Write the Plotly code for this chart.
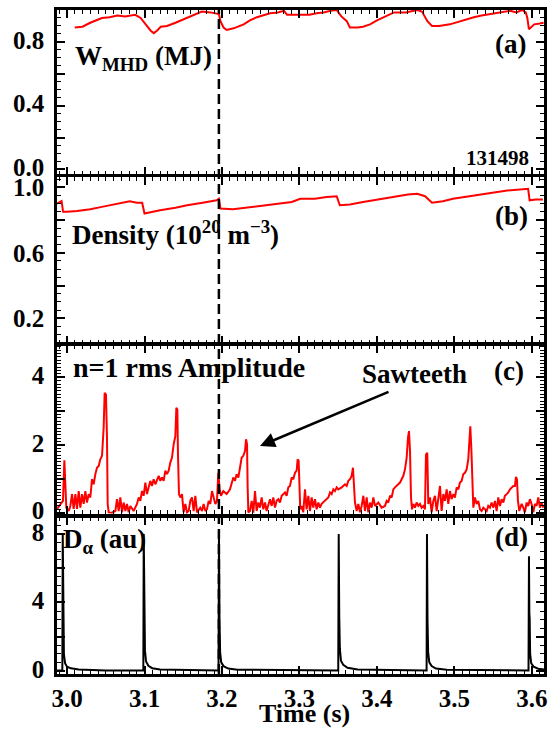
import plotly.graph_objects as go

# ---------------- data ----------------
T_W = [3.010, 3.020, 3.030, 3.045, 3.055, 3.065, 3.075, 3.088, 3.095, 3.100, 3.104, 3.108,
       3.112, 3.116, 3.121, 3.129, 3.140, 3.150, 3.159, 3.168, 3.174, 3.185, 3.194, 3.196,
       3.198, 3.202, 3.206, 3.215, 3.228, 3.236, 3.245, 3.262, 3.272, 3.280, 3.284, 3.300,
       3.313, 3.322, 3.331, 3.340, 3.348, 3.354, 3.361, 3.365, 3.375, 3.382, 3.391, 3.400,
       3.409, 3.422, 3.437, 3.446, 3.452, 3.458, 3.462, 3.465, 3.471, 3.480, 3.494, 3.510,
       3.525, 3.535, 3.546, 3.560, 3.572, 3.580, 3.587, 3.592, 3.594, 3.596, 3.603, 3.610, 3.615]
W_MHD = [0.89, 0.895, 0.92, 0.95, 0.955, 0.965, 0.96, 0.97, 0.95, 0.92, 0.90, 0.87,
         0.855, 0.87, 0.895, 0.90, 0.92, 0.94, 0.955, 0.975, 0.99, 0.985, 0.98, 0.975,
         0.93, 0.89, 0.875, 0.885, 0.91, 0.935, 0.955, 0.98, 0.985, 0.995, 0.97, 0.97,
         0.97, 0.98, 0.985, 0.995, 1.0, 0.96, 0.93, 0.89, 0.89, 0.895, 0.91, 0.935,
         0.955, 0.985, 0.985, 0.995, 1.0, 0.99, 0.96, 0.93, 0.90, 0.90, 0.91, 0.935,
         0.955, 0.965, 0.975, 0.985, 0.995, 0.985, 1.0, 0.985, 0.95, 0.88, 0.91, 0.915, 0.92]

T_N = [2.987, 2.993, 2.995, 3.000, 3.013, 3.030, 3.045, 3.055, 3.070, 3.081, 3.090, 3.097,
       3.100, 3.110, 3.120, 3.140, 3.155, 3.175, 3.193, 3.196, 3.198, 3.214, 3.240, 3.260,
       3.275, 3.290, 3.301, 3.320, 3.335, 3.348, 3.352, 3.365, 3.382, 3.400, 3.420, 3.440,
       3.452, 3.462, 3.471, 3.485, 3.498, 3.520, 3.542, 3.568, 3.595, 3.597, 3.605, 3.614]
DENSITY = [0.90, 0.915, 0.85, 0.85, 0.855, 0.865, 0.88, 0.89, 0.905, 0.915, 0.905, 0.905,
           0.84, 0.85, 0.86, 0.875, 0.89, 0.905, 0.92, 0.93, 0.87, 0.865, 0.88, 0.89,
           0.90, 0.91, 0.93, 0.93, 0.94, 0.945, 0.89, 0.895, 0.91, 0.925, 0.94, 0.955,
           0.96, 0.945, 0.905, 0.915, 0.93, 0.945, 0.96, 0.98, 0.99, 0.92, 0.925, 0.925]

T_AMP = [2.9871, 2.9914, 2.9948, 2.9966, 2.9991, 3.0022, 3.0043, 3.0065, 3.0086, 3.0108,
         3.0129, 3.0151, 3.0172, 3.0194, 3.0215, 3.0237, 3.0258, 3.0280, 3.0301, 3.0323,
         3.0344, 3.0366, 3.0387, 3.0409, 3.0430, 3.0452, 3.0473, 3.0486, 3.0503, 3.0516,
         3.0525, 3.0538, 3.0581, 3.0624, 3.0645, 3.0667, 3.0688, 3.0710, 3.0731, 3.0753,
         3.0774, 3.0796, 3.0817, 3.0860, 3.0903, 3.0925, 3.0946, 3.0968, 3.0989, 3.1011,
         3.1032, 3.1054, 3.1075, 3.1097, 3.1118, 3.1140, 3.1161, 3.1183, 3.1204, 3.1226,
         3.1247, 3.1269, 3.1290, 3.1312, 3.1333, 3.1355, 3.1376, 3.1398, 3.1411, 3.1424,
         3.1432, 3.1445, 3.1462, 3.1484, 3.1505, 3.1527, 3.1548, 3.1570, 3.1591, 3.1613,
         3.1634, 3.1656, 3.1677, 3.1720, 3.1742, 3.1763, 3.1785, 3.1806, 3.1828, 3.1849,
         3.1871, 3.1892, 3.1914, 3.1935, 3.1953, 3.1970, 3.1987, 3.2017, 3.2060, 3.2103,
         3.2146, 3.2168, 3.2189, 3.2211, 3.2232, 3.2254, 3.2275, 3.2297, 3.2310, 3.2323,
         3.2331, 3.2340, 3.2361, 3.2383, 3.2404, 3.2426, 3.2447, 3.2469, 3.2490, 3.2512,
         3.2533, 3.2555, 3.2576, 3.2598, 3.2619, 3.2641, 3.2662, 3.2684, 3.2705, 3.2727,
         3.2748, 3.2770, 3.2813, 3.2834, 3.2856, 3.2877, 3.2899, 3.2920, 3.2942, 3.2963,
         3.2976, 3.2989, 3.2998, 3.3010, 3.3028, 3.3049, 3.3071, 3.3092, 3.3114, 3.3135,
         3.3157, 3.3178, 3.3200, 3.3221, 3.3243, 3.3264, 3.3286, 3.3329, 3.3372, 3.3394,
         3.3415, 3.3437, 3.3458, 3.3480, 3.3501, 3.3544, 3.3587, 3.3609, 3.3630, 3.3652,
         3.3673, 3.3690, 3.3703, 3.3716, 3.3738, 3.3759, 3.3781, 3.3802, 3.3824, 3.3845,
         3.3867, 3.3888, 3.3910, 3.3931, 3.3953, 3.3974, 3.4017, 3.4060, 3.4103, 3.4125,
         3.4146, 3.4168, 3.4189, 3.4211, 3.4232, 3.4254, 3.4275, 3.4297, 3.4318, 3.4340,
         3.4361, 3.4383, 3.4400, 3.4413, 3.4426, 3.4439, 3.4452, 3.4469, 3.4490, 3.4512,
         3.4533, 3.4555, 3.4576, 3.4598, 3.4619, 3.4632, 3.4649, 3.4662, 3.4684, 3.4705,
         3.4727, 3.4748, 3.4770, 3.4791, 3.4813, 3.4834, 3.4856, 3.4877, 3.4899, 3.4920,
         3.4942, 3.4963, 3.4985, 3.5006, 3.5028, 3.5049, 3.5071, 3.5092, 3.5114, 3.5135,
         3.5157, 3.5178, 3.5191, 3.5204, 3.5217, 3.5230, 3.5243, 3.5264, 3.5286, 3.5307,
         3.5329, 3.5350, 3.5372, 3.5415, 3.5436, 3.5458, 3.5479, 3.5501, 3.5522, 3.5544,
         3.5565, 3.5587, 3.5608, 3.5630, 3.5651, 3.5673, 3.5694, 3.5716, 3.5737, 3.5759,
         3.5780, 3.5793, 3.5806, 3.5819, 3.5836, 3.5866, 3.5888, 3.5909, 3.5930, 3.5952,
         3.5973, 3.5995, 3.6017, 3.6038, 3.6060, 3.6081, 3.6103, 3.6124, 3.6146]
AMP = [0.11, 0.26, 0.35, 1.55, 0.15, 0.05, 0.20, 0.55, 0.11, 0.55,
       0.11, 0.64, 0.15, 0.55, 0.26, 0.64, 0.30, 0.55, 0.45, 0.99,
       0.84, 1.14, 1.33, 1.38, 1.58, 1.68, 2.51, 3.54, 3.49, 2.21,
       0.26, 0.01, 0.00, 0.05, 0.40, 0.05, 0.45, 0.01, 0.30, 0.05,
       0.26, 0.01, 0.20, 0.05, 0.26, 0.45, 0.35, 0.64, 0.50, 0.89,
       0.55, 0.75, 0.94, 0.79, 0.99, 0.84, 0.94, 1.09, 0.94, 1.04,
       0.94, 1.24, 1.14, 1.24, 1.48, 1.63, 2.02, 2.26, 3.10, 3.05,
       1.73, 0.55, 0.45, 0.55, 0.01, 0.26, 0.01, 0.05, 0.35, 0.45,
       0.05, 0.50, 0.01, 0.15, 0.05, 0.26, 0.05, 0.10, 0.35, 0.26,
       0.64, 0.45, 0.26, 0.35, 1.18, 0.69, 0.50, 0.64, 0.55, 0.69,
       1.04, 0.94, 1.14, 1.04, 1.38, 1.63, 1.68, 1.82, 2.17, 2.02,
       0.75, 0.01, 0.05, 0.35, 0.00, 0.64, 0.05, 0.30, 0.15, 0.45,
       0.10, 0.30, 0.05, 0.20, 0.40, 0.20, 0.45, 0.15, 0.35, 0.40,
       0.30, 0.50, 0.60, 0.50, 0.75, 0.79, 1.04, 0.99, 1.18, 1.24,
       1.58, 1.53, 0.45, 0.10, 0.20, 0.01, 0.69, 0.10, 0.50, 0.05,
       0.45, 0.15, 0.40, 0.10, 0.30, 0.15, 0.26, 0.35, 0.45, 0.60,
       0.55, 0.69, 0.64, 0.75, 0.69, 0.75, 0.84, 0.79, 0.94, 0.99,
       1.09, 1.33, 0.84, 0.30, 0.05, 0.26, 0.01, 0.20, 0.50, 0.05,
       0.45, 0.01, 0.30, 0.15, 0.45, 0.20, 0.30, 0.15, 0.20, 0.35,
       0.30, 0.50, 0.45, 0.69, 0.75, 0.79, 0.84, 0.89, 0.99, 1.09,
       1.28, 1.63, 2.22, 2.41, 1.82, 0.45, 0.10, 0.26, 0.15, 0.30,
       0.20, 0.26, 0.15, 0.20, 0.10, 1.72, 1.77, 0.26, 0.45, 0.01,
       0.35, 0.50, 0.05, 0.45, 0.79, 0.05, 0.55, 0.35, 0.69, 0.26,
       0.64, 0.40, 0.55, 0.45, 0.75, 0.69, 0.89, 0.94, 1.14, 1.18,
       1.28, 1.58, 2.31, 2.55, 1.92, 0.75, 0.15, 0.45, 0.26, 0.35,
       0.10, 0.05, 0.15, 0.05, 0.20, 0.15, 0.30, 0.15, 0.35, 0.05,
       0.45, 0.20, 0.40, 0.30, 0.50, 0.55, 0.60, 0.69, 0.75, 0.79,
       0.79, 1.06, 0.99, 0.35, 0.05, 0.26, 0.15, 0.01, 0.30, 0.20,
       0.40, 0.26, 0.01, 0.26, 0.20, 0.45, 0.15, 0.30, 0.15]

T_DA = [2.9870, 2.9940, 2.9945, 2.9952, 2.9960, 2.9975, 3.0000, 3.0050, 3.0150, 3.0500,
        3.0985, 3.0990, 3.0998, 3.1006, 3.1020, 3.1050, 3.1100, 3.1200, 3.1955, 3.1961,
        3.1968, 3.1976, 3.1990, 3.2020, 3.2080, 3.2200, 3.3500, 3.3506, 3.3513, 3.3521,
        3.3535, 3.3565, 3.3620, 3.3750, 3.4640, 3.4645, 3.4652, 3.4660, 3.4675, 3.4705,
        3.4760, 3.4900, 3.5955, 3.5961, 3.5966, 3.5970, 3.5976, 3.5990, 3.6020, 3.6080, 3.6155]
D_ALPHA = [0.02, 0.02, 8.0, 3.0, 1.0, 0.45, 0.25, 0.15, 0.08, 0.03,
           0.03, 8.0, 3.0, 1.2, 0.55, 0.30, 0.16, 0.08, 0.03, 8.0,
           3.0, 1.1, 0.50, 0.28, 0.14, 0.07, 0.03, 8.0, 3.2, 1.3,
           0.60, 0.35, 0.18, 0.08, 0.03, 8.0, 3.0, 1.1, 0.50, 0.28,
           0.14, 0.07, 0.03, 6.7, 3.3, 3.1, 1.0, 0.45, 0.25, 0.13, 0.08]

X_TICKS = [3.0, 3.1, 3.2, 3.3, 3.4, 3.5, 3.6]
X_TICKTEXT = ["3.0", "3.1", "3.2", "3.3", "3.4", "3.5", "3.6"]
YA_TICKS, YA_TEXT = [0.0, 0.2, 0.4, 0.6, 0.8, 1.0], ["0.0", "", "0.4", "", "0.8", ""]
YB_TICKS, YB_TEXT = [0.2, 0.4, 0.6, 0.8, 1.0], ["0.2", "", "0.6", "", "1.0"]
YC_TICKS, YC_TEXT = [0, 1, 2, 3, 4], ["0", "", "2", "", "4"]
YD_TICKS, YD_TEXT = [0, 2, 4, 6, 8], ["0", "", "4", "", "8"]

SHOT = "131498"
MARK_T = 3.196

# ---------------- figure ----------------
W_PX, H_PX = 560, 730
ML, MR, MT, MB = 57, 16, 7, 56
PW, PH = W_PX - ML - MR, H_PX - MT - MB


def px_x(px):
    return (px - ML) / PW


def px_y(py):
    return (H_PX - MB - py) / PH


FONT = "Liberation Serif, Tinos, Times New Roman, DejaVu Serif, serif"
RED = "#ff0000"

fig = go.Figure()
fig.add_trace(go.Scatter(x=T_W, y=W_MHD, mode="lines", line=dict(color=RED, width=2),
                         xaxis="x", yaxis="y", showlegend=False))
fig.add_trace(go.Scatter(x=T_N, y=DENSITY, mode="lines", line=dict(color=RED, width=2),
                         xaxis="x2", yaxis="y2", showlegend=False))
fig.add_trace(go.Scatter(x=T_AMP, y=AMP, mode="lines", line=dict(color=RED, width=2),
                         xaxis="x3", yaxis="y3", showlegend=False))
fig.add_trace(go.Scatter(x=T_DA, y=D_ALPHA, mode="lines", line=dict(color="black", width=2),
                         xaxis="x4", yaxis="y4", showlegend=False))

XR = [2.9871, 3.6155]
panels = [  # (top px, bottom px, yrange, ticks, text, minor dtick, label shift)
    (7, 172, [-0.03, 1.0], YA_TICKS, YA_TEXT, 0.05, -2),
    (175, 342, [0.046, 1.061], YB_TICKS, YB_TEXT, 0.05, 0),
    (344, 513, [-0.03, 4.94], YC_TICKS, YC_TEXT, 0.1, -2),
    (517, 674, [-0.18, 8.95], YD_TICKS, YD_TEXT, 0.5, -2),
]
tickfont = dict(family=FONT, size=25, color="black", weight="bold")
layout = {}
for i, (top, bot, yr, tv, tt, mdt, shift) in enumerate(panels, start=1):
    sfx = "" if i == 1 else str(i)
    layout["xaxis" + sfx] = dict(
        domain=[0, 1], range=XR, anchor="y" + sfx, showgrid=False, zeroline=False,
        showline=True, linecolor="black", linewidth=2.5, mirror="ticks",
        ticks="inside", ticklen=8, tickwidth=2, tickcolor="black",
        tickvals=X_TICKS, ticktext=X_TICKTEXT, showticklabels=(i == 4),
        tickfont=tickfont, ticklabelstandoff=0,
        minor=dict(dtick=0.01, tick0=3.0, ticks="inside", ticklen=4, tickwidth=1.3,
                   tickcolor="black", showgrid=False),
    )
    layout["yaxis" + sfx] = dict(
        domain=[px_y(bot), px_y(top)], range=yr, anchor="x" + sfx, showgrid=False,
        zeroline=False, showline=True, linecolor="black", linewidth=2.5, mirror="ticks",
        ticks="inside", ticklen=8, tickwidth=2, tickcolor="black",
        tickvals=tv, ticktext=tt, tickfont=tickfont, ticklabelstandoff=5,
        ticklabelshift=shift,
        minor=dict(dtick=mdt, tick0=0, ticks="inside", ticklen=4, tickwidth=1.3,
                   tickcolor="black", showgrid=False),
    )

ann_font = dict(family=FONT, size=27, color="black", weight="bold")


def label(text, px, py, xanchor="left", size=27):
    f = dict(ann_font)
    f["size"] = size
    return dict(text=text, x=px_x(px), y=px_y(py), xref="paper", yref="paper",
                xanchor=xanchor, yanchor="middle", showarrow=False, font=f)


annotations = [
    label("W<sub>MHD</sub> (MJ)", 73, 55),
    label("(a)", 510, 41, "center"),
    label(SHOT, 497, 156, "center", 21),
    label("Density (10<sup>20</sup> m<sup>−3</sup>)", 70, 231),
    label("(b)", 511, 214, "center"),
    label("n=1 rms Amplitude", 71, 366, size=28),
    label("Sawteeth", 414, 373, "center"),
    label("(c)", 509, 370, "center"),
    label("D<sub>α</sub> (au)", 61, 540),
    label("(d)", 511, 536, "center"),
    label("Time (s)", 304, 714, "center", 26),
    dict(text="", x=3.249, y=1.97, xref="x3", yref="y3", ax=3.4168, ay=3.59,
         axref="x3", ayref="y3", showarrow=True, arrowhead=2, arrowsize=1.2,
         arrowwidth=2.5, arrowcolor="black", standoff=0),
]

shapes = [dict(type="line", xref="x", yref="paper", x0=MARK_T, x1=MARK_T, y0=0, y1=1,
               line=dict(color="black", width=2.5, dash="10px,5px"), layer="above")]

fig.update_layout(
    width=W_PX, height=H_PX, margin=dict(l=ML, r=MR, t=MT, b=MB),
    paper_bgcolor="white", plot_bgcolor="white",
    font=dict(family=FONT),
    annotations=annotations, shapes=shapes, **layout,
)

fig.write_html("out.html")
